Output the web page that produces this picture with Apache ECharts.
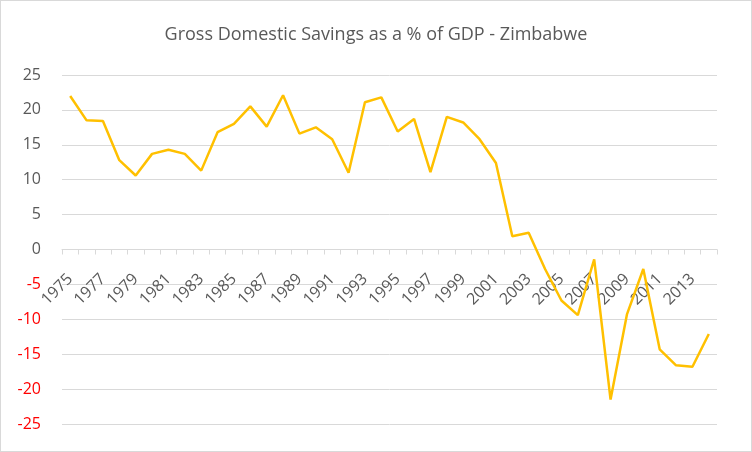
<!DOCTYPE html>
<html lang="en">
<head>
    <meta charset="UTF-8">
    <title>Gross Domestic Savings - Zimbabwe</title>
    <script src="https://cdn.jsdelivr.net/npm/echarts@6/dist/echarts.min.js"></script>
    <style>
        body { margin: 0; }
        #chart {
            width: 750px;
            height: 450px;
            border: 1px solid #d9d9d9;
        }
    </style>
</head>
<body>
    <div id="chart"></div>
    <script type="text/javascript">
        const years = [];
        for (let y = 1975; y <= 2014; y++) years.push(String(y));

        const savings = [
            22.0, 18.5, 18.4, 12.8, 10.6, 13.7, 14.3, 13.7, 11.3, 16.8,
            18.0, 20.5, 17.6, 22.1, 16.6, 17.5, 15.8, 11.0, 21.1, 21.8,
            16.9, 18.7, 11.1, 19.0, 18.2, 15.8, 12.4, 1.9, 2.4, -2.8,
            -7.3, -9.4, -1.4, -21.5, -9.3, -2.8, -14.3, -16.6, -16.8, -12.1
        ];

        const yTicks = { min: -25, max: 25, step: 5 };

        // grid geometry, the category axis is drawn across the plot at y = 0
        const gridTop = 74, gridBottom = 27, chartH = 450;
        const plotH = chartH - gridTop - gridBottom;
        const zeroOffset = -plotH * (0 - yTicks.min) / (yTicks.max - yTicks.min);

        const chart = echarts.init(document.getElementById('chart'), null, { renderer: 'canvas' });

        chart.setOption({
            animation: false,
            title: {
                text: 'Gross Domestic Savings as a % of GDP - Zimbabwe',
                left: 'center',
                top: 20,
                textStyle: {
                    fontFamily: 'Open Sans',
                    fontSize: 18,
                    fontWeight: 'normal',
                    color: '#595959'
                }
            },
            grid: {
                left: 61, right: 34, top: gridTop, bottom: gridBottom,
                containLabel: false,
                outerBoundsMode: 'none'
            },
            xAxis: {
                type: 'category',
                data: years,
                boundaryGap: true,
                offset: zeroOffset,
                axisLine: { onZero: false, lineStyle: { color: '#d9d9d9', width: 1 } },
                axisTick: { show: true, interval: 0, length: 5, lineStyle: { color: '#d9d9d9' } },
                axisLabel: {
                    interval: 1,
                    rotate: 45,
                    margin: 27,
                    color: '#595959',
                    fontFamily: 'Open Sans',
                    fontSize: 16
                }
            },
            yAxis: {
                type: 'value',
                min: yTicks.min,
                max: yTicks.max,
                interval: yTicks.step,
                axisLine: { show: false },
                axisTick: { show: false },
                axisLabel: {
                    margin: 21,
                    fontFamily: 'Open Sans',
                    fontSize: 16,
                    color: v => (v < 0 ? '#ff0000' : '#595959')
                },
                splitLine: { lineStyle: { color: '#d9d9d9', width: 1 } }
            },
            series: [{
                type: 'line',
                data: savings,
                showSymbol: false,
                lineStyle: { color: '#ffc000', width: 2.5 },
                itemStyle: { color: '#ffc000' }
            }]
        });
    </script>
</body>
</html>
